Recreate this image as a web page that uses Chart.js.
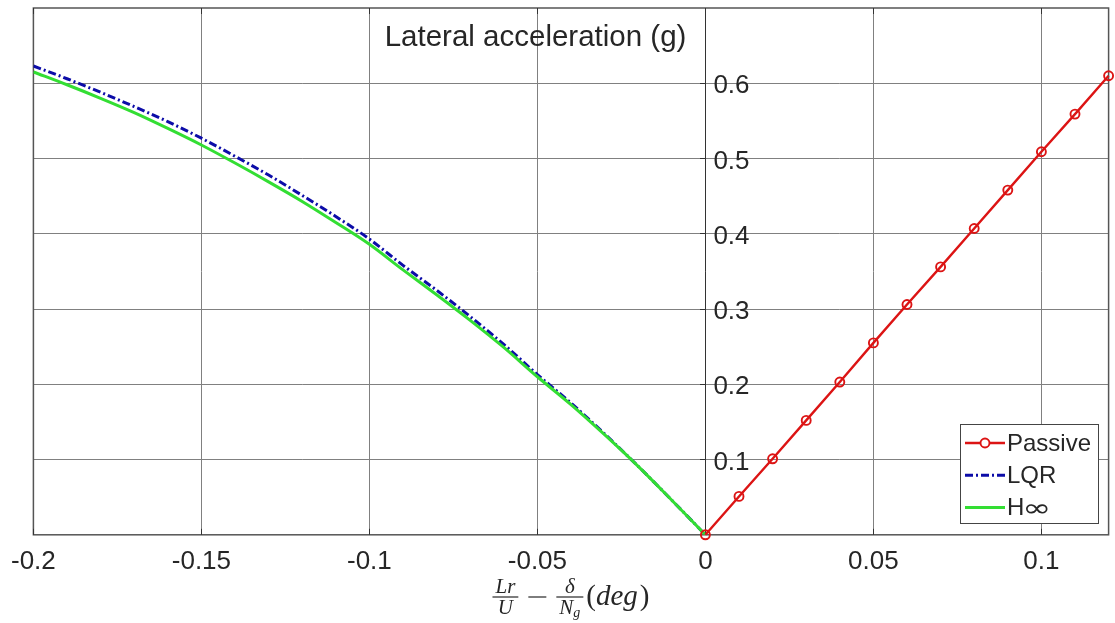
<!DOCTYPE html>
<html>
<head>
<meta charset="utf-8">
<title>Lateral acceleration</title>
<script src="https://cdn.jsdelivr.net/npm/chart.js@4.4.1/dist/chart.umd.min.js"></script>
<style>
  html, body { margin: 0; padding: 0; background: #fff; }
  #wrap { width: 1115px; height: 623px; position: relative; }
</style>
</head>
<body>
<div id="wrap"><canvas id="grafico"></canvas></div>
<script>
// Passive vehicle: straight line, one marker every 0.01
const xPassive = [0, 0.01, 0.02, 0.03, 0.04, 0.05, 0.06, 0.07, 0.08, 0.09, 0.1, 0.11, 0.12];
const yPassive = [0, 0.051, 0.101, 0.152, 0.203, 0.255, 0.306, 0.356, 0.407, 0.458, 0.509, 0.559, 0.61];

// Controlled vehicle (LQR and H-infinity), negative side
const xCtrl = [-0.2, -0.19, -0.18, -0.17, -0.16, -0.15, -0.14, -0.13, -0.12, -0.11, -0.1,
               -0.09, -0.08, -0.07, -0.06, -0.05, -0.04, -0.03, -0.02, -0.01, 0];
const yLQR  = [0.623, 0.606, 0.588, 0.569, 0.549, 0.527, 0.503, 0.478, 0.451, 0.423, 0.393,
               0.358, 0.325, 0.29, 0.253, 0.213, 0.175, 0.134, 0.091, 0.046, 0];
const yHinf = [0.615, 0.598, 0.58, 0.561, 0.54, 0.518, 0.494, 0.469, 0.443, 0.415, 0.386,
               0.352, 0.319, 0.285, 0.249, 0.21, 0.173, 0.133, 0.091, 0.046, 0];

// Axis ticks
const xTicks = [-0.2, -0.15, -0.1, -0.05, 0, 0.05, 0.1];
const yTicks = [0.1, 0.2, 0.3, 0.4, 0.5, 0.6];

const fonte = '"Liberation Sans", Arial, Helvetica, sans-serif';
const serif = '"Liberation Serif", "Times New Roman", serif';
const corTexto = '#262626';

const pares = (xs, ys) => xs.map((x, i) => ({ x, y: ys[i] }));

// Box, inner ticks, y labels, titles and legend
const molduraPlugin = {
  id: 'moldura',
  beforeDatasetsDraw(chart) {
    const { ctx, chartArea: a, scales: { x } } = chart;
    ctx.save();
    ctx.strokeStyle = '#555';
    ctx.lineWidth = 1.5;
    ctx.strokeRect(a.left, a.top, a.right - a.left, a.bottom - a.top);
    ctx.strokeStyle = '#333';
    ctx.lineWidth = 1;
    xTicks.forEach(v => {
      const px = Math.round(x.getPixelForValue(v)) + 0.5;
      ctx.beginPath();
      ctx.moveTo(px, a.top); ctx.lineTo(px, a.top + 6);
      ctx.moveTo(px, a.bottom); ctx.lineTo(px, a.bottom - 6);
      ctx.stroke();
    });
    ctx.restore();
  },
  afterDraw(chart) {
    const { ctx, chartArea: a, scales: { x, y } } = chart;
    const x0 = x.getPixelForValue(0);
    ctx.save();
    ctx.fillStyle = corTexto;

    // y tick labels sit right of the axis at x = 0
    ctx.font = '26px ' + fonte;
    ctx.textAlign = 'left';
    ctx.textBaseline = 'middle';
    yTicks.forEach(v => ctx.fillText(String(v), x0 + 8, y.getPixelForValue(v) + 3));

    // y title, top left of the axis
    ctx.font = '29.5px ' + fonte;
    ctx.textAlign = 'right';
    ctx.textBaseline = 'alphabetic';
    ctx.fillText('Lateral acceleration (g)', x0 - 19, 46);

    desenharTituloX(ctx, (a.left + a.right) / 2, 597);
    desenharLegenda(ctx, chart);
    ctx.restore();
  }
};

// Lr/U - delta/N_g (deg)
function desenharTituloX(ctx, cx, barY) {
  const fFrac = 'italic 21px ' + serif;
  const fSub = 'italic 14px ' + serif;
  const fBig = 'italic 29px ' + serif;
  const fUp = '29px ' + serif;

  ctx.font = fFrac;
  const wLr = ctx.measureText('Lr').width;
  const wU = ctx.measureText('U').width;
  const wD = ctx.measureText('δ').width;
  const wN = ctx.measureText('N').width;
  ctx.font = fSub;
  const wG = ctx.measureText('g').width;
  ctx.font = fUp;
  const wPar = ctx.measureText('(').width;
  ctx.font = fBig;
  const wDeg = ctx.measureText('deg').width;

  const w1 = Math.max(wLr, wU) + 6;
  const w2 = Math.max(wD, wN + wG) + 6;
  const wMenos = 18, gap = 10;
  const total = w1 + gap + wMenos + gap + w2 + 3 + wPar * 2 + wDeg + 2;
  let px = cx - total / 2;

  ctx.strokeStyle = corTexto;
  ctx.lineWidth = 1.2;
  ctx.textAlign = 'center';
  ctx.textBaseline = 'alphabetic';

  // first fraction
  ctx.font = fFrac;
  ctx.fillText('Lr', px + w1 / 2, barY - 4);
  ctx.fillText('U', px + w1 / 2, barY + 17);
  ctx.beginPath(); ctx.moveTo(px, barY); ctx.lineTo(px + w1, barY); ctx.stroke();
  px += w1 + gap;

  // minus
  ctx.beginPath(); ctx.moveTo(px, barY); ctx.lineTo(px + wMenos, barY); ctx.stroke();
  px += wMenos + gap;

  // second fraction
  ctx.fillText('δ', px + w2 / 2, barY - 4);
  const nx = px + (w2 - wN - wG) / 2;
  ctx.textAlign = 'left';
  ctx.fillText('N', nx, barY + 17);
  ctx.font = fSub;
  ctx.fillText('g', nx + wN, barY + 20);
  ctx.beginPath(); ctx.moveTo(px, barY); ctx.lineTo(px + w2, barY); ctx.stroke();
  px += w2 + 3;

  // (deg)
  const base = barY + 8;
  ctx.font = fUp;
  ctx.fillText('(', px, base); px += wPar;
  ctx.font = fBig;
  ctx.fillText('deg', px, base); px += wDeg + 2;
  ctx.font = fUp;
  ctx.fillText(')', px, base);
}

function desenharLegenda(ctx, chart) {
  const bx = 960, by = 424, bw = 138, bh = 99;
  ctx.fillStyle = '#fff';
  ctx.fillRect(bx, by, bw, bh);
  ctx.strokeStyle = '#444';
  ctx.lineWidth = 1;
  ctx.strokeRect(bx + 0.5, by + 0.5, bw, bh);

  chart.data.datasets.forEach((ds, i) => {
    const ly = by + 19 + i * 32.3;
    ctx.save();
    ctx.strokeStyle = ds.borderColor;
    ctx.lineWidth = ds.borderWidth;
    ctx.setLineDash(ds.borderDash || []);
    ctx.beginPath(); ctx.moveTo(965, ly); ctx.lineTo(1005, ly); ctx.stroke();
    ctx.setLineDash([]);
    if (ds.pointRadius > 0) {
      ctx.lineWidth = ds.pointBorderWidth;
      ctx.fillStyle = '#fff';
      ctx.beginPath(); ctx.arc(985, ly, ds.pointRadius, 0, Math.PI * 2);
      ctx.fill(); ctx.stroke();
    }
    ctx.restore();

    ctx.fillStyle = corTexto;
    ctx.font = '24px ' + fonte;
    ctx.textAlign = 'left';
    ctx.textBaseline = 'middle';
    if (ds.label === 'H∞') {
      // TeX-like wide infinity sign
      ctx.fillText('H', 1007, ly + 1);
      const wH = ctx.measureText('H').width;
      ctx.save();
      ctx.translate(1007 + wH - 2, ly + 2);
      ctx.scale(1.45, 1);
      ctx.font = '24px "DejaVu Sans", sans-serif';
      ctx.fillText('∞', 0, 0);
      ctx.restore();
    } else {
      ctx.fillText(ds.label, 1007, ly + 1);
    }
  });
}

const grafico = new Chart(document.getElementById('grafico'), {
  type: 'line',
  data: {
    datasets: [
      {
        label: 'Passive',
        data: pares(xPassive, yPassive),
        borderColor: '#dc1414',
        borderWidth: 2.4,
        pointRadius: 4.5,
        pointBorderWidth: 1.9,
        pointBorderColor: '#dc1414',
        pointBackgroundColor: 'rgba(0,0,0,0)',
        clip: false,
        order: 0
      },
      {
        label: 'LQR',
        data: pares(xCtrl, yLQR),
        borderColor: '#0c0ca8',
        borderWidth: 3,
        borderDash: [8, 3, 2, 3],
        pointRadius: 0,
        cubicInterpolationMode: 'monotone',
        order: 2
      },
      {
        label: 'H∞',
        data: pares(xCtrl, yHinf),
        borderColor: '#33de33',
        borderWidth: 3,
        pointRadius: 0,
        cubicInterpolationMode: 'monotone',
        order: 1
      }
    ]
  },
  options: {
    responsive: true,
    maintainAspectRatio: false,
    animation: false,
    devicePixelRatio: 1,
    layout: { padding: { left: 33, right: 5, top: 8, bottom: 35 } },
    plugins: { legend: { display: false }, tooltip: { enabled: false } },
    scales: {
      x: {
        type: 'linear',
        min: -0.2,
        max: 0.12,
        afterBuildTicks: s => { s.ticks = xTicks.map(v => ({ value: v })); },
        ticks: {
          font: { size: 26, family: fonte },
          color: corTexto,
          padding: 11,
          maxRotation: 0,
          callback: v => String(v)
        },
        grid: { color: '#808080', lineWidth: 1, drawTicks: false },
        border: { display: false }
      },
      y: {
        type: 'linear',
        min: 0,
        max: 0.7,
        position: { x: 0 },
        afterBuildTicks: s => { s.ticks = yTicks.map(v => ({ value: v })); },
        ticks: { display: false },
        grid: { color: '#808080', lineWidth: 1, drawTicks: true, tickLength: 5, tickColor: '#333' },
        border: { display: true, color: '#333', width: 1 }
      }
    }
  },
  plugins: [molduraPlugin]
});
</script>
</body>
</html>
